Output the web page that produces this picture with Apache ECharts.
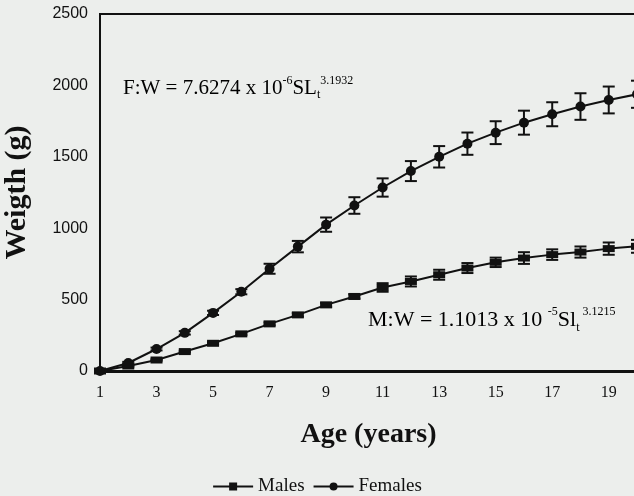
<!DOCTYPE html>
<html>
<head>
<meta charset="utf-8">
<script src="https://cdn.jsdelivr.net/npm/echarts@6/dist/echarts.min.js"></script>
<style>
html,body{margin:0;padding:0;background:#eceeec;}
#c{width:634px;height:496px;}
</style>
</head>
<body>
<div id="c"></div>
<script>
var ages = [1,2,3,4,5,6,7,8,9,10,11,12,13,14,15,16,17,18,19,20];
var females = [0,56,154,267,407,555,716,871,1025,1159,1285,1400,1500,1592,1669,1739,1798,1852,1898,1938];
var femalesErr = [0,8,10,12,15,18,35,40,50,58,64,70,75,78,80,84,84,93,94,95];
var males = [0,35,77,136,194,260,330,393,463,522,585,627,674,721,761,791,815,833,857,873];
var malesErr = [0,5,5,6,8,8,10,12,14,15,30,35,35,35,33,41,37,39,43,45];
var yTicks = [0,500,1000,1500,2000,2500];
var xTickLabels = [1,3,5,7,9,11,13,15,17,19];

function pairs(v){ return ages.map(function(a,i){ return [a, v[i]]; }); }
function errData(v,e){ return ages.map(function(a,i){ return [a, v[i]-e[i], v[i]+e[i]]; }); }

function errRender(params, api){
  var x = api.value(0);
  var lo = api.coord([x, api.value(1)]);
  var hi = api.coord([x, api.value(2)]);
  if (Math.abs(hi[1]-lo[1]) < 1) return null;
  var hw = 6;
  var st = {stroke:'#111', lineWidth:2};
  return {type:'group', children:[
    {type:'line', shape:{x1:lo[0],y1:lo[1],x2:hi[0],y2:hi[1]}, style:st},
    {type:'line', shape:{x1:lo[0]-hw,y1:lo[1],x2:lo[0]+hw,y2:lo[1]}, style:st},
    {type:'line', shape:{x1:hi[0]-hw,y1:hi[1],x2:hi[0]+hw,y2:hi[1]}, style:st}
  ]};
}

var serif = '"Liberation Serif", "Times New Roman", serif';
var chart = echarts.init(document.getElementById('c'));
chart.setOption({
  backgroundColor:'#eceeec',
  animation:false,
  grid:{left:100, right:-3, top:14, bottom:125, containLabel:false, outerBoundsMode:'none',
        show:true, borderColor:'#111', borderWidth:2, backgroundColor:'transparent'},
  legend:{
    top:472, left:'center',
    itemWidth:40, itemHeight:10, itemGap:8,
    textStyle:{fontFamily:serif, fontSize:19, color:'#111'},
    data:['Males','Females']
  },
  xAxis:{
    type:'value', min:1, max:20, interval:2,
    name:'Age (years)', nameLocation:'middle', nameGap:50,
    nameTextStyle:{fontFamily:serif, fontSize:28, fontWeight:'bold', color:'#111'},
    axisLine:{lineStyle:{color:'#111', width:3}},
    axisTick:{show:false},
    splitLine:{show:false},
    axisLabel:{fontFamily:serif, fontSize:16, color:'#111', margin:14,
      formatter:function(v){ return xTickLabels.indexOf(v) >= 0 ? String(v) : ''; }}
  },
  yAxis:{
    type:'value', min:yTicks[0], max:yTicks[yTicks.length-1], interval:500,
    name:'Weigth (g)', nameLocation:'middle', nameGap:68,
    nameTextStyle:{fontFamily:serif, fontSize:30, fontWeight:'bold', color:'#111'},
    axisLine:{show:true, lineStyle:{color:'#111', width:2}},
    axisTick:{show:false},
    splitLine:{show:false},
    axisLabel:{fontFamily:'"Liberation Sans", Arial, sans-serif', fontSize:16, color:'#111', margin:12,
      formatter:function(v){ return String(v); }}
  },
  series:[
    {name:'Males', type:'line', data:pairs(males), symbol:'rect', symbolSize:[12,7], clip:false,
     lineStyle:{color:'#111', width:2}, itemStyle:{color:'#111'}, z:3},
    {name:'Females', type:'line', data:pairs(females), symbol:'circle', symbolSize:10, clip:false,
     lineStyle:{color:'#111', width:2}, itemStyle:{color:'#111'}, z:3},
    {name:'MalesErr', type:'custom', data:errData(males, malesErr), renderItem:errRender, clip:false, z:2},
    {name:'FemalesErr', type:'custom', data:errData(females, femalesErr), renderItem:errRender, clip:false, z:2}
  ],
  graphic:[
    {type:'text', left:123, top:75, z:10, style:{
      text:'{n|F:W = 7.6274 x 10}{s|-6}{n|SL}{b|t}{s|3.1932}',
      rich:{
        n:{fontFamily:serif, fontSize:21, color:'#111', lineHeight:26, verticalAlign:'middle'},
        s:{fontFamily:serif, fontSize:12, color:'#111', lineHeight:26, verticalAlign:'top'},
        b:{fontFamily:serif, fontSize:12, color:'#111', lineHeight:26, verticalAlign:'bottom'}
      }}},
    {type:'text', left:368, top:306, z:10, style:{
      text:'{n|M:W = 1.1013 x 10 }{s|-5}{n|Sl}{b|t}{s| 3.1215}',
      rich:{
        n:{fontFamily:serif, fontSize:22, color:'#111', lineHeight:28, verticalAlign:'middle'},
        s:{fontFamily:serif, fontSize:12, color:'#111', lineHeight:28, verticalAlign:'top'},
        b:{fontFamily:serif, fontSize:12, color:'#111', lineHeight:28, verticalAlign:'bottom'}
      }}}
  ]
});
</script>
</body>
</html>
